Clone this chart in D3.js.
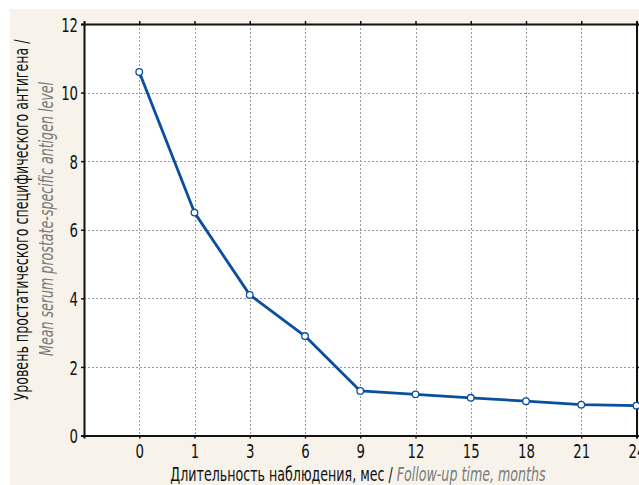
<!DOCTYPE html>
<html><head><meta charset="utf-8">
<script src="https://cdn.jsdelivr.net/npm/d3@7"></script>
<style>
html,body{margin:0;padding:0;background:#fff;}
svg text{font-family:"DejaVu Sans Condensed","DejaVu Sans",sans-serif;}
</style></head>
<body>
<svg id="c" width="639" height="485"></svg>
<script>
const months = ["0","1","3","6","9","12","15","18","21","24"];
const psa = [10.6, 6.5, 4.1, 2.9, 1.3, 1.2, 1.1, 1.0, 0.9, 0.87];
const yTicks = [0, 2, 4, 6, 8, 10, 12];
const xTitleRu = "Длительность наблюдения, мес / ";
const xTitleEn = "Follow-up time, months";
const yTitleRu = "Уровень простатического специфического антигена /";
const yTitleEn = "Mean serum prostate-specific antigen level";

const svg = d3.select("#c");
const W = 639, H = 485;
const m = {l: 84, t: 24, r: 636.5, b: 435.5};
const SX = 0.74;

svg.append("rect").attr("x", 10).attr("y", 9).attr("width", W - 10).attr("height", H - 9).attr("fill", "#f7f3eb");
svg.append("rect").attr("x", m.l).attr("y", m.t).attr("width", m.r - m.l).attr("height", m.b - m.t).attr("fill", "#fff");

const x = d3.scaleLinear().domain([-1, months.length - 1]).range([m.l, m.r]);
const y = d3.scaleLinear().domain([0, 12]).range([m.b, m.t]);
const idx = months.map((d, i) => i);

// grid
const g = svg.append("g");
g.selectAll(".vg").data(idx.slice(0, -1)).join("line")
  .attr("x1", d => Math.round(x(d)) + 0.5).attr("x2", d => Math.round(x(d)) + 0.5)
  .attr("y1", m.t).attr("y2", m.b)
  .attr("stroke", "#9a9a9a").attr("stroke-width", 1).attr("stroke-dasharray", "2,2");
g.selectAll(".hg").data(yTicks.slice(1, -1)).join("line")
  .attr("y1", d => Math.round(y(d)) + 0.5).attr("y2", d => Math.round(y(d)) + 0.5)
  .attr("x1", m.l).attr("x2", m.r)
  .attr("stroke", "#9a9a9a").attr("stroke-width", 1).attr("stroke-dasharray", "2,2");

// axes
const fmtX = i => months[i];
const axB = svg.append("g").attr("transform", `translate(0,${m.b})`)
  .call(d3.axisBottom(x).tickValues(idx).tickFormat(fmtX).tickSize(3).tickPadding(5));
const axT = svg.append("g").attr("transform", `translate(0,${m.t})`)
  .call(d3.axisTop(x).tickValues(idx).tickFormat("").tickSize(3));
const axL = svg.append("g").attr("transform", `translate(${m.l},0)`)
  .call(d3.axisLeft(y).tickValues(yTicks).tickFormat(d3.format("d")).tickSize(3).tickPadding(3));
const axR = svg.append("g").attr("transform", `translate(${m.r},0)`)
  .call(d3.axisRight(y).tickValues(yTicks).tickFormat("").tickSize(3));
[axB, axT, axL, axR].forEach(a => {
  a.select(".domain").attr("stroke", "#111").attr("stroke-width", 2);
  a.selectAll(".tick line").attr("stroke", "#111").attr("stroke-width", 1.5);
  a.selectAll("text").attr("font-size", 20).attr("fill", "#111")
    .style("font-family", '"DejaVu Sans Condensed","DejaVu Sans",sans-serif')
    .attr("transform", `scale(${SX},1)`);
});
axB.selectAll("text").attr("dy", "0.75em");
axL.selectAll("text").attr("dy", "0.36em").attr("x", -8);

// line
const line = d3.line().x((d, i) => x(i)).y(d => y(d));
svg.append("path").datum(psa).attr("d", line).attr("fill", "none")
  .attr("stroke", "#0a4e9f").attr("stroke-width", 2.8).attr("stroke-linejoin", "round");
svg.selectAll(".pt").data(psa).join("circle")
  .attr("cx", (d, i) => x(i)).attr("cy", d => y(d)).attr("r", 3.3)
  .attr("fill", "#fff").attr("stroke", "#0a4e9f").attr("stroke-width", 1.3);

// titles
const xt = svg.append("text").attr("transform", `translate(358,481) scale(${SX},1)`)
  .attr("text-anchor", "middle").attr("font-size", 19);
xt.append("tspan").attr("fill", "#111").text(xTitleRu);
xt.append("tspan").attr("fill", "#7a7a7a").attr("font-style", "italic").text(xTitleEn);

svg.append("text").attr("transform", `translate(28,220) rotate(-90) scale(${SX},1)`).attr("text-anchor", "middle")
  .attr("font-size", 19).attr("fill", "#111").text(yTitleRu);
svg.append("text").attr("transform", `translate(53,219) rotate(-90) scale(${SX},1)`).attr("text-anchor", "middle")
  .attr("font-size", 19).attr("fill", "#7a7a7a").attr("font-style", "italic").text(yTitleEn);
</script>
</body></html>
